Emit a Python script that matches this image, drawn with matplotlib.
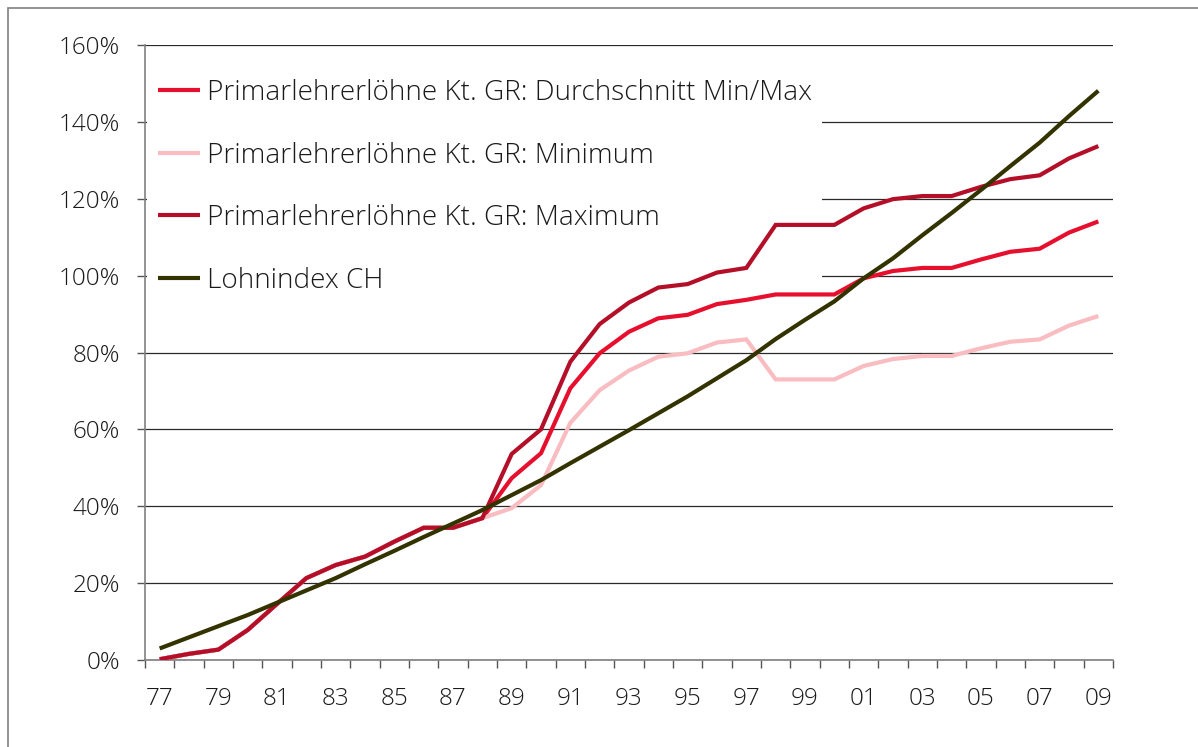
import matplotlib
matplotlib.use("Agg")
import matplotlib.pyplot as plt
from matplotlib.patches import Rectangle
from matplotlib.ticker import FixedLocator, FuncFormatter

plt.rcParams['font.family'] = ['Open Sans', 'DejaVu Sans']
plt.rcParams['font.weight'] = 300

years = ["77", "78", "79", "80", "81", "82", "83", "84", "85", "86", "87", "88",
         "89", "90", "91", "92", "93", "94", "95", "96", "97", "98", "99", "00",
         "01", "02", "03", "04", "05", "06", "07", "08", "09"]

durchschnitt = [0.2, 1.6, 2.7, 7.8, 14.6, 21.3, 24.7, 26.9, 30.8, 34.4, 34.4, 36.9,
                47.3, 53.8, 70.7, 79.8, 85.4, 88.9, 89.8, 92.6, 93.7, 95.1, 95.1, 95.1,
                99.3, 101.2, 102.0, 102.0, 104.2, 106.2, 107.0, 111.2, 114.1]
minimum = [0.2, 1.6, 2.7, 7.8, 14.6, 21.3, 24.7, 26.9, 30.8, 34.4, 34.4, 36.9,
           39.5, 45.5, 61.7, 70.2, 75.3, 78.9, 79.8, 82.6, 83.4, 73.0, 73.0, 73.0,
           76.5, 78.3, 79.1, 79.1, 81.1, 82.8, 83.4, 87.0, 89.5]
maximum = [0.2, 1.6, 2.7, 7.8, 14.6, 21.3, 24.7, 26.9, 30.8, 34.4, 34.4, 36.9,
           53.6, 60.0, 77.6, 87.4, 93.0, 96.9, 97.8, 100.8, 102.0, 113.2, 113.2, 113.2,
           117.5, 119.9, 120.7, 120.7, 123.1, 125.1, 126.1, 130.5, 133.7]
lohnindex = [3.0, 5.9, 8.8, 11.7, 14.9, 18.1, 21.3, 24.9, 28.4, 32.0, 35.5, 39.0,
             42.9, 46.8, 51.2, 55.5, 59.8, 64.2, 68.6, 73.3, 78.0, 83.5, 88.5, 93.3,
             99.3, 104.5, 110.5, 116.3, 122.3, 128.5, 134.6, 141.5, 148.1]

series_labels = ["Primarlehrerlöhne Kt. GR: Durchschnitt Min/Max",
                 "Primarlehrerlöhne Kt. GR: Minimum",
                 "Primarlehrerlöhne Kt. GR: Maximum",
                 "Lohnindex CH"]
series_colors = ["#E60F2D", "#F8BCC1", "#B40F28", "#333300"]
y_ticks = [0, 20, 40, 60, 80, 100, 120, 140, 160]

W, H = 1198, 747
fig = plt.figure(figsize=(W / 100, H / 100), dpi=100)
fig.patch.set_facecolor("white")

# outer frame
fig.add_artist(Rectangle((7.5 / W, -0.1), 1.2, (H - 7.5) / H + 0.1,
                         transform=fig.transFigure, fill=False,
                         edgecolor="#808080", linewidth=1.2))

ax = fig.add_axes([145 / W, (H - 660) / H, (1113 - 145) / W, (660 - 45) / H])
x = list(range(len(years)))
data = [durchschnitt, minimum, maximum, lohnindex]
lines = []
for vals, lab, col in zip(data, series_labels, series_colors):
    ln, = ax.plot(x, vals, color=col, lw=3.0, label=lab, zorder=3,
                  solid_joinstyle="miter", solid_capstyle="butt")
    lines.append(ln)

ax.set_xlim(-0.5, len(years) - 0.5)
ax.set_ylim(0, 160)
ax.set_yticks(y_ticks)
ax.yaxis.set_major_formatter(FuncFormatter(lambda v, p: f"{v:.0f}%"))
ax.grid(axis="y", color="#2a2a2a", lw=0.9)
ax.set_axisbelow(True)

ax.set_xticks(x[::2])
ax.set_xticklabels(years[::2])
ax.xaxis.set_minor_locator(FixedLocator([i - 0.5 for i in range(len(years) + 1)]))
ax.tick_params(axis="x", which="major", length=0, pad=19.5, labelsize=17.5,
               labelcolor="#1a1a1a")
ax.tick_params(axis="x", which="minor", length=6, width=1.0, color="#555555",
               direction="out")
ax.tick_params(axis="y", which="major", length=6, width=1.0, color="#555555",
               pad=12, labelsize=17.5, labelcolor="#1a1a1a")

for s in ["top", "right"]:
    ax.spines[s].set_visible(False)
for s in ["left", "bottom"]:
    ax.spines[s].set_color("#808080")
    ax.spines[s].set_linewidth(1.2)

# white legend area hiding gridlines
ax.add_patch(Rectangle((0.002, (660 - 305) / 615), (821 - 146) / 968, (305 - 47) / 615,
                       transform=ax.transAxes, facecolor="white", edgecolor="none",
                       zorder=1.5))

fs = 20.1
leg = ax.legend(handles=lines, loc="upper left",
                bbox_to_anchor=((158 - 145) / 968, 1 - (79 - 45) / 615),
                frameon=False, fontsize=fs, handlelength=1.5, handletextpad=0.25,
                labelspacing=1.24, borderpad=0, borderaxespad=0)
for t in leg.get_texts():
    t.set_color("#1a1a1a")

fig.savefig("out.png", dpi=100)
